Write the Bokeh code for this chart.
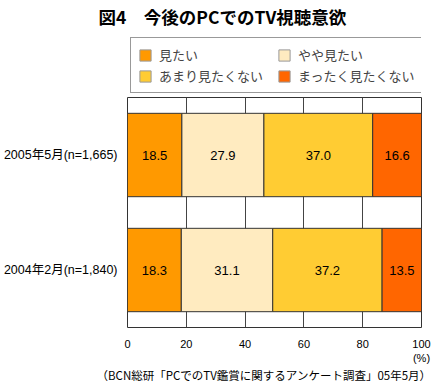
import numpy as np
from bokeh.plotting import figure
from bokeh.layouts import column
from bokeh.models import Range1d, FixedTicker, Legend, LegendItem, ColumnDataSource, Title
from bokeh.core.properties import value
from bokeh.embed import file_html
from bokeh.resources import INLINE

# ---- data ----
categories = ["2004年2月(n=1,840)", "2005年5月(n=1,665)"]
series_names = ["見たい", "やや見たい", "あまり見たくない", "まったく見たくない"]
mitai = [18.3, 18.5]
yaya_mitai = [31.1, 27.9]
amari = [37.2, 37.0]
mattaku = [13.5, 16.6]
series_values = [mitai, yaya_mitai, amari, mattaku]
colors = ["#FF9900", "#FFEBC0", "#FFCC33", "#FF6600"]
x_ticks = [0, 20, 40, 60, 80, 100]
title_text = "図4　今後のPCでのTV視聴意欲"
source_text = "（BCN総研「PCでのTV鑑賞に関するアンケート調査」05年5月）"
unit_text = "(%)"

FONT = "Liberation Sans, Noto Sans CJK JP"
JFONT = "Noto Sans CJK JP"

y_pos = [i + 0.5 for i in range(len(categories))]

# ---------- header figure (title + legend) ----------
head = figure(width=440, height=96, output_backend="svg", toolbar_location=None,
              x_range=Range1d(0, 1), y_range=Range1d(0, 1),
              min_border_left=127, min_border_right=19, min_border_top=34,
              min_border_bottom=0, x_axis_type=None, y_axis_type=None)
head.outline_line_color = None
head.background_fill_color = "white"
head.border_fill_color = "white"
head.xgrid.grid_line_color = None
head.ygrid.grid_line_color = None

head.title.text = title_text
head.title.text_font = JFONT
head.title.text_font_size = "17.5px"
head.title.text_font_style = "bold"
head.title.text_color = "black"
head.title.align = "left"
head.title.offset = -29
head.title.vertical_align = "top"
head.title.standoff = 7

legend_renderers = []
for col in colors:
    r = head.hbar(y=np.array([np.nan]), left=np.array([np.nan]), right=np.array([np.nan]),
                  height=1, fill_color=col, line_color="#999999", line_width=1)
    legend_renderers.append(r)

legend = Legend(items=[LegendItem(label=n, renderers=[r]) for n, r in zip(series_names, legend_renderers)],
                ncols=2, location="top_left", orientation="horizontal")
legend.label_text_font = JFONT
legend.label_text_font_size = "13px"
legend.glyph_width = 14
legend.glyph_height = 14
legend.label_width = 116
legend.label_standoff = 7
legend.padding = 7
legend.spacing = 2
legend.margin = 3
legend.border_line_color = "#333333"
legend.border_line_width = 1
legend.background_fill_color = "white"
legend.background_fill_alpha = 1
head.add_layout(legend)

# ---------- main chart ----------
p = figure(width=440, height=288, output_backend="svg", toolbar_location=None,
           x_range=Range1d(0, 100), y_range=Range1d(0, 2),
           min_border_left=127, min_border_right=19,
           min_border_top=1, min_border_bottom=47)
p.background_fill_color = "white"
p.border_fill_color = "white"
p.outline_line_color = "#333333"
p.outline_line_width = 1

left = [0.0] * len(categories)
for name, vals, col in zip(series_names, series_values, colors):
    right = [l + v for l, v in zip(left, vals)]
    mid = [l + v / 2 for l, v in zip(left, vals)]
    src = ColumnDataSource(dict(y=y_pos, left=left, right=right, mid=mid,
                                lab=[f"{v:.1f}" for v in vals]))
    p.hbar(y="y", left="left", right="right", height=0.725, source=src,
           fill_color=col, line_color="#333333", line_width=1)
    p.text(x="mid", y="y", text="lab", source=src, text_align="center",
           text_baseline="middle", text_font_size="13px",
           text_font=value(FONT), text_color="black")
    left = right

p.xaxis.ticker = FixedTicker(ticks=x_ticks)
p.xaxis.major_label_overrides = {100: "100\n" + unit_text}
p.xaxis.major_tick_line_color = None
p.xaxis.minor_tick_line_color = None
p.xaxis.axis_line_color = None
p.xaxis.major_label_standoff = 4
p.xaxis.major_label_text_font = FONT
p.xaxis.major_label_text_font_size = "11px"
p.xaxis.major_label_text_color = "black"

p.yaxis.ticker = FixedTicker(ticks=y_pos)
p.yaxis.major_label_overrides = {y: c for y, c in zip(y_pos, categories)}
p.yaxis.major_tick_line_color = None
p.yaxis.minor_tick_line_color = None
p.yaxis.axis_line_color = None
p.yaxis.major_label_standoff = 4
p.yaxis.major_label_text_font = FONT
p.yaxis.major_label_text_font_size = "12.5px"
p.yaxis.major_label_text_color = "black"

p.xgrid.ticker = FixedTicker(ticks=x_ticks)
p.xgrid.grid_line_color = "#444444"
p.xgrid.grid_line_width = 1
p.ygrid.grid_line_color = None

footer = Title(text=source_text, align="right", offset=-10,
               standoff=0, vertical_align="top",
               text_font=JFONT, text_font_size="11.5px", text_font_style="normal",
               text_color="black")
p.add_layout(footer, "below")

layout = column(head, p, spacing=0)
open("out.html", "w").write(file_html(layout, INLINE))
